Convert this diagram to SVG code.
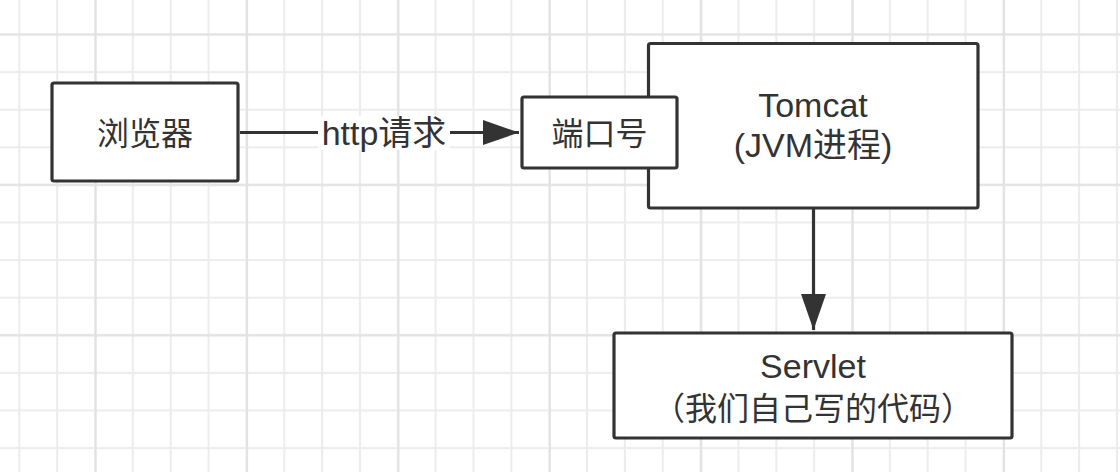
<svg xmlns="http://www.w3.org/2000/svg" width="1120" height="472" viewBox="0 0 1120 472">
  <style>
    .box { fill: #ffffff; stroke: #333333; stroke-width: 3.2; }
    .lbl { font-family: "Liberation Sans", "Noto Sans CJK SC", sans-serif; font-size: 34px; fill: #333333; text-anchor: middle; }
    .cjk { font-family: "Noto Sans CJK SC", "Liberation Sans", sans-serif; font-size: 32px; fill: #333333; text-anchor: middle; }
    .conn { stroke: #333333; stroke-width: 3.2; fill: none; }
  </style>
  <defs>
    <pattern id="gridMinor" patternUnits="userSpaceOnUse" x="0.375" y="15.7" width="37.85" height="37.6">
      <path d="M18.925 0V37.6M0 18.8H37.85" stroke="#ececec" stroke-width="2" fill="none"/>
    </pattern>
    <pattern id="gridMajor" patternUnits="userSpaceOnUse" x="20" y="-40.7" width="151.4" height="150.4">
      <path d="M75.7 0V150.4M0 75.2H151.4" stroke="#e2e2e2" stroke-width="2" fill="none"/>
    </pattern>
    <marker id="arrow" viewBox="0 0 36 25" refX="36" refY="12.5" markerWidth="36" markerHeight="25" markerUnits="userSpaceOnUse" orient="auto">
      <path d="M0 0L36 12.5L0 25Z" fill="#333333"/>
    </marker>
  </defs>
  <rect width="1120" height="472" fill="#ffffff"/>
  <rect width="1120" height="472" fill="url(#gridMinor)"/>
  <rect width="1120" height="472" fill="url(#gridMajor)"/>

  <g id="connectors">
    <path class="conn" d="M240 132.5H519" marker-end="url(#arrow)"/>
    <path class="conn" d="M813.5 209V330" marker-end="url(#arrow)"/>
    <rect x="318" y="116" width="132" height="34" fill="#ffffff"/>
    <text class="lbl" x="384" y="145">http请求</text>
  </g>

  <g id="browser">
    <rect class="box" x="52" y="83" width="186" height="98" rx="2"/>
    <text class="cjk" x="145" y="145">浏览器</text>
  </g>

  <g id="tomcat">
    <rect class="box" x="648.5" y="43.5" width="329.5" height="164.5" rx="2"/>
    <text class="lbl" x="813" y="117">Tomcat</text>
    <text class="lbl" x="813" y="157">(JVM进程)</text>
  </g>

  <g id="port">
    <rect class="box" x="522" y="97" width="155" height="71" rx="2"/>
    <text class="cjk" x="599.5" y="145">端口号</text>
  </g>

  <g id="servlet">
    <rect class="box" x="614" y="333" width="398" height="105" rx="2"/>
    <text class="lbl" x="813" y="378">Servlet</text>
    <text class="cjk" x="813" y="420">（我们自己写的代码）</text>
  </g>
</svg>
